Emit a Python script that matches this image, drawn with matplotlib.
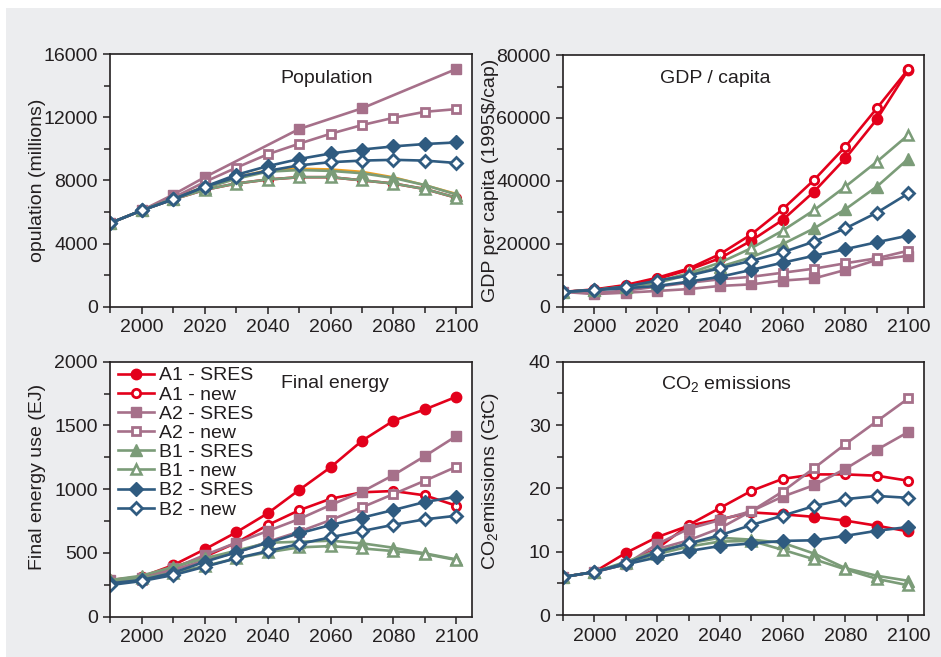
import matplotlib
matplotlib.use('Agg')
import matplotlib.pyplot as plt
from matplotlib.patches import Rectangle
from matplotlib.ticker import MultipleLocator

plt.rcParams['font.family'] = ['Liberation Sans', 'DejaVu Sans']
plt.rcParams['mathtext.default'] = 'regular'
plt.rcParams['font.size'] = 14

INK = '#231F20'
RED = '#E3001B'
MAUVE = '#A6708A'
GREEN = '#7B9C78'
BLUE = '#2F5B80'

years = [1990, 2000, 2010, 2020, 2030, 2040, 2050, 2060, 2070, 2080, 2090, 2100]
labels = ['A1 - SRES', 'A1 - new', 'A2 - SRES', 'A2 - new',
          'B1 - SRES', 'B1 - new', 'B2 - SRES', 'B2 - new']

# population (millions)
pop_a1_sres = [5300, 6100, 6900, 7600, 8200, 8650, 8750, 8700, 8550, 8200, 7700, 7150]
pop_a1_new = [5300, 6100, 6800, 7400, 7800, 8050, 8200, 8200, 8000, 7800, 7450, 6900]
pop_a2_years = [1990, 2000, 2010, 2020, 2050, 2070, 2100]
pop_a2_sres = [5300, 6100, 7100, 8200, 11250, 12560, 15050]
pop_a2_new = [5300, 6100, 6900, 7900, 8800, 9650, 10320, 10950, 11500, 11960, 12340, 12510]
pop_b1_sres = [5300, 6100, 6850, 7500, 8100, 8550, 8650, 8600, 8450, 8150, 7700, 7100]
pop_b1_new = [5300, 6100, 6800, 7400, 7800, 8050, 8200, 8200, 8000, 7800, 7450, 6900]
pop_b2_sres = [5300, 6100, 6800, 7600, 8350, 8900, 9350, 9700, 9950, 10150, 10300, 10400]
pop_b2_new = [5300, 6100, 6800, 7600, 8200, 8600, 8950, 9150, 9250, 9300, 9250, 9100]

# GDP per capita (1995$/cap)
gdp_a1_sres = [4700, 5300, 6700, 8800, 11700, 15400, 21000, 27600, 36600, 47200, 59600, 75300]
gdp_a1_new = [4700, 5500, 6900, 9200, 12100, 16700, 23000, 31000, 40300, 50900, 63100, 75500]
gdp_a2_sres = [4700, 4000, 4450, 5000, 5600, 6600, 7100, 8300, 9000, 11700, 14900, 16200]
gdp_a2_new = [4700, 4400, 5100, 6400, 7600, 8700, 9500, 10800, 12100, 13800, 15400, 17800]
gdp_b1_sres = [4700, 5300, 6200, 7600, 10100, 12700, 15700, 19900, 24900, 31000, 38200, 47000]
gdp_b1_new = [4700, 5300, 6400, 8000, 10600, 14000, 18600, 24200, 30700, 38200, 46100, 54600]
gdp_b2_sres = [4700, 5300, 5850, 6600, 7950, 9500, 11700, 14000, 16200, 18300, 20500, 22600]
gdp_b2_new = [4700, 5300, 6400, 8300, 9900, 12200, 14600, 17300, 20700, 24900, 29900, 36000]

# final energy use (EJ)
fe_a1_sres = [288, 314, 405, 529, 662, 811, 994, 1172, 1380, 1537, 1626, 1725]
fe_a1_new = [280, 305, 387, 471, 580, 719, 835, 925, 976, 986, 952, 871]
fe_a2_sres = [285, 300, 380, 484, 580, 672, 766, 876, 980, 1111, 1260, 1417]
fe_a2_new = [280, 288, 366, 445, 502, 588, 667, 758, 858, 962, 1067, 1176]
fe_b1_sres = [288, 322, 392, 458, 518, 580, 588, 596, 576, 541, 497, 450]
fe_b1_new = [285, 301, 345, 398, 458, 505, 544, 554, 536, 515, 492, 445]
fe_b2_sres = [262, 288, 345, 431, 505, 580, 654, 719, 777, 837, 900, 941]
fe_b2_new = [249, 280, 327, 392, 458, 515, 570, 623, 672, 721, 764, 792]

# CO2 emissions (GtC)
co2_a1_sres = [6.0, 6.8, 9.8, 12.3, 14.1, 15.1, 16.2, 15.9, 15.5, 14.9, 14.1, 13.2]
co2_a1_new = [6.0, 6.8, 8.2, 10.5, 14.2, 16.9, 19.6, 21.5, 22.2, 22.2, 22.0, 21.2]
co2_a2_sres = [6.0, 6.8, 8.0, 11.2, 13.6, 15.0, 16.4, 18.7, 20.5, 23.1, 26.1, 28.9]
co2_a2_new = [6.0, 6.8, 8.0, 10.4, 11.8, 13.7, 16.4, 19.5, 23.2, 27.0, 30.6, 34.2]
co2_b1_sres = [6.0, 6.8, 8.4, 10.1, 11.3, 12.2, 11.9, 11.4, 9.7, 7.4, 6.2, 5.4]
co2_b1_new = [6.0, 6.8, 8.2, 9.6, 10.8, 11.6, 11.7, 10.3, 8.8, 7.2, 5.7, 4.7]
co2_b2_sres = [6.0, 6.8, 8.0, 9.1, 10.1, 10.9, 11.3, 11.7, 11.8, 12.5, 13.3, 13.9]
co2_b2_new = [6.0, 6.8, 8.2, 9.9, 11.3, 12.6, 14.2, 15.7, 17.2, 18.3, 18.8, 18.5]

# line/marker style for each scenario, same order as labels
styles = [
    dict(color=RED, marker='o', ms=7.5, mfc=RED),
    dict(color=RED, marker='o', ms=6, mfc='white', mew=2),
    dict(color=MAUVE, marker='s', ms=6.5, mfc=MAUVE),
    dict(color=MAUVE, marker='s', ms=5.5, mfc='white', mew=2),
    dict(color=GREEN, marker='^', ms=8, mfc=GREEN),
    dict(color=GREEN, marker='^', ms=7, mfc='white', mew=1.8),
    dict(color=BLUE, marker='D', ms=7, mfc=BLUE),
    dict(color=BLUE, marker='D', ms=6, mfc='white', mew=2),
]

fig = plt.figure(figsize=(9.41, 6.57), dpi=100)
fig.patch.set_facecolor('white')
fig.patches.append(Rectangle((6 / 941, 0), 1, 1 - 8 / 657, transform=fig.transFigure,
                             facecolor='#ECEDEF', edgecolor='none', zorder=-5))

ax_pop = fig.add_axes([0.1174, 0.5332, 0.3842, 0.3846])
ax_gdp = fig.add_axes([0.5983, 0.5332, 0.3836, 0.3830])
ax_fe = fig.add_axes([0.1174, 0.0613, 0.3842, 0.3881])
ax_co2 = fig.add_axes([0.5983, 0.0639, 0.3836, 0.3856])


def draw(ax, series, xs=None):
    lines = []
    for i, vals in enumerate(series):
        if vals is None:
            continue
        x = years if xs is None or xs[i] is None else xs[i]
        ln, = ax.plot(x, vals, lw=1.9, mec=styles[i]['color'], label=labels[i], **styles[i])
        lines.append(ln)
    return lines


def style_axes(ax, ymax, ymajor, title, tx, ty, ylabel, lx, ly):
    ax.set_xlim(1990, 2105)
    ax.set_ylim(0, ymax)
    ax.xaxis.set_major_locator(MultipleLocator(20))
    ax.xaxis.set_minor_locator(MultipleLocator(10))
    ax.yaxis.set_major_locator(MultipleLocator(ymajor))
    ax.yaxis.set_minor_locator(MultipleLocator(ymajor / 2))
    ax.set_xticks([2000, 2020, 2040, 2060, 2080, 2100])
    for s in ax.spines.values():
        s.set_color(INK)
        s.set_linewidth(1.2)
    ax.tick_params(which='both', direction='out', color=INK, labelcolor=INK,
                   width=1.1, top=False, right=False, labelsize=14)
    ax.tick_params(which='major', length=5, pad=4)
    ax.tick_params(which='minor', length=4)
    ax.text(tx, ty, title, transform=ax.transAxes, ha='center', va='center',
            fontsize=14, color=INK)
    ax.set_ylabel(ylabel, fontsize=14, color=INK, va='center')
    ax.yaxis.set_label_coords(lx, ly)


# population: A1 SRES line sits under B1, A1 new hidden under B1 new
ax_pop.plot(years, pop_a1_sres, color='#F0A020', lw=1.6)
draw(ax_pop, [None, pop_a1_new, pop_a2_sres, pop_a2_new,
              pop_b1_sres, pop_b1_new, pop_b2_sres, pop_b2_new],
     xs=[None, None, pop_a2_years, None, None, None, None, None])
style_axes(ax_pop, 16000, 4000, 'Population', 0.599, 0.905,
           'opulation (millions)', -0.203, 0.5)

draw(ax_gdp, [gdp_a1_sres, gdp_a1_new, gdp_a2_sres, gdp_a2_new,
              gdp_b1_sres, gdp_b1_new, gdp_b2_sres, gdp_b2_new])
style_axes(ax_gdp, 80000, 20000, 'GDP / capita', 0.421, 0.908,
           'GDP per capita (1995$/cap)', -0.2, 0.5)

handles = draw(ax_fe, [fe_a1_sres, fe_a1_new, fe_a2_sres, fe_a2_new,
                       fe_b1_sres, fe_b1_new, fe_b2_sres, fe_b2_new])
style_axes(ax_fe, 2000, 500, 'Final energy', 0.621, 0.913,
           'Final energy use (EJ)', -0.203, 0.55)
ax_fe.legend(handles=handles, loc='upper left', bbox_to_anchor=(0.015, 0.988),
             frameon=False, fontsize=14, handlelength=1.85, handletextpad=0.25,
             labelspacing=0.08, borderpad=0.1, borderaxespad=0.0, labelcolor=INK)

draw(ax_co2, [co2_a1_sres, co2_a1_new, co2_a2_sres, co2_a2_new,
              co2_b1_sres, co2_b1_new, co2_b2_sres, co2_b2_new])
style_axes(ax_co2, 40, 10, 'CO$_2$ emissions', 0.454, 0.91,
           'CO$_2$emissions (GtC)', -0.2, 0.53)

fig.savefig('out.png', dpi=100)
